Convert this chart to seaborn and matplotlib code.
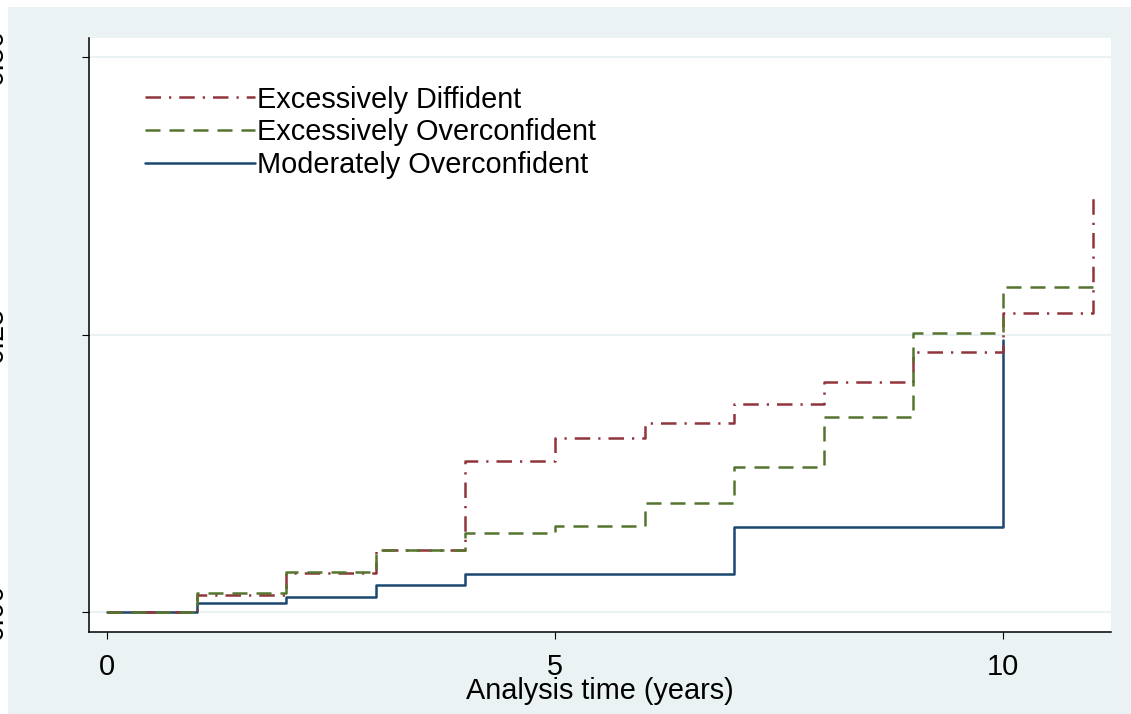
import matplotlib
matplotlib.use("Agg")
import matplotlib.pyplot as plt
from matplotlib.patches import Rectangle
import seaborn as sns
import pandas as pd

# --- data (cumulative failure by year) ---
diffident_t = [0, 1, 2, 3, 4, 5, 6, 7, 8, 9, 10, 11]
diffident_y = [0, 0.0158, 0.0351, 0.0561, 0.1365, 0.1567, 0.1708, 0.1879, 0.2077, 0.2347, 0.2693, 0.3729]

overconf_t = [0, 1, 2, 3, 4, 5, 6, 7, 8, 9, 10, 11]
overconf_y = [0, 0.0171, 0.0366, 0.0561, 0.0711, 0.0775, 0.0987, 0.1306, 0.1762, 0.2513, 0.2927, 0.2927]

moderate_t = [0, 1, 2, 3, 4, 7, 10]
moderate_y = [0, 0.0081, 0.0141, 0.0246, 0.0342, 0.0771, 0.245]

labels = ["Excessively Diffident", "Excessively Overconfident", "Moderately Overconfident"]
x_ticks = [0, 5, 10]
y_ticks = [0, 0.25, 0.5]
y_ticklabels = ["0.00", "0.25", "0.50"]

# --- style ---
sns.set_theme(style="white")
plt.rcParams["font.family"] = ["Liberation Sans", "DejaVu Sans"]
plt.rcParams["text.color"] = "black"
plt.rcParams["axes.labelcolor"] = "black"
plt.rcParams["xtick.color"] = "black"
plt.rcParams["ytick.color"] = "black"
FS = 20.8
bg = "#EAF2F3"
red, green, blue = "#90353B", "#55752F", "#1A476F"

fig = plt.figure(figsize=(11.31, 7.14), dpi=100, facecolor="white")
fig.patches.append(Rectangle((8 / 1131, 0), 1, 1 - 7 / 714, transform=fig.transFigure,
                             facecolor=bg, edgecolor="none", zorder=-10))
ax = fig.add_axes([89 / 1131, 1 - 632 / 714, 1022 / 1131, 594 / 714])
ax.set_facecolor("white")

df_d = pd.DataFrame({"t": diffident_t, "y": diffident_y})
df_o = pd.DataFrame({"t": overconf_t, "y": overconf_y})
df_m = pd.DataFrame({"t": moderate_t, "y": moderate_y})

lw = 1.8
sns.lineplot(data=df_d, x="t", y="y", ax=ax, color=red, lw=lw, drawstyle="steps-post",
             linestyle=(0, (6.2, 3.2, 0.9, 3.2)), zorder=3)
sns.lineplot(data=df_m, x="t", y="y", ax=ax, color=blue, lw=lw, drawstyle="steps-post",
             zorder=2)
sns.lineplot(data=df_o, x="t", y="y", ax=ax, color=green, lw=lw, drawstyle="steps-post",
             linestyle=(0, (6.0, 3.6)), zorder=4)

lines = ax.get_lines()
handles = [lines[0], lines[2], lines[1]]

ax.set_xlim(-0.2009, 11.205)
ax.set_ylim(-0.01774, 0.5172)
ax.set_xticks(x_ticks)
ax.set_yticks(y_ticks)
ax.set_yticklabels(y_ticklabels, rotation=90, va="center")
ax.yaxis.grid(True, color=bg, lw=1.5, zorder=0)
ax.xaxis.grid(False)
ax.set_axisbelow(True)

for side in ["top", "right"]:
    ax.spines[side].set_visible(False)
for side in ["left", "bottom"]:
    ax.spines[side].set_color("black")
    ax.spines[side].set_linewidth(1.1)

ax.tick_params(axis="x", direction="out", length=5, width=0.8, color="black",
               labelsize=FS, pad=10, bottom=True, labelcolor="black")
ax.tick_params(axis="y", direction="out", length=5, width=0.8, color="black",
               labelsize=FS, pad=53, left=True, labelcolor="black")

ax.set_xlabel("Analysis time (years)", fontsize=FS, labelpad=-3, color="black")
ax.set_ylabel("")

leg = ax.legend(handles, labels, loc="upper left", bbox_to_anchor=(0.0548, 0.92),
                frameon=False, fontsize=FS, handlelength=3.8, handletextpad=0.07,
                labelspacing=0.17, borderpad=0, borderaxespad=0)
for txt in leg.get_texts():
    txt.set_color("black")

fig.savefig("out.png", dpi=100, facecolor=fig.get_facecolor())
